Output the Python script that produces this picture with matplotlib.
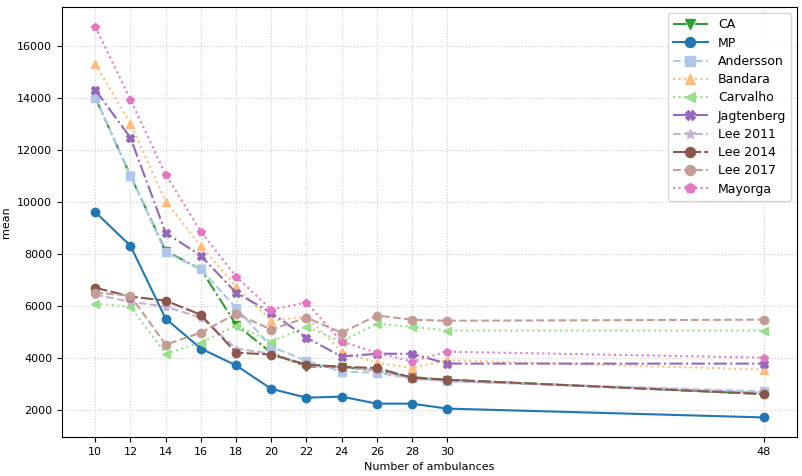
import matplotlib
matplotlib.use("Agg")
import matplotlib.pyplot as plt

ambulances = [10, 12, 14, 16, 18, 20, 22, 24, 26, 28, 30, 48]

ca = [14000, 11000, 8100, 7400, 5270, 4190, 3650, 3650, 3500, 3250, 3150, 2600]
mp = [9600, 8300, 5500, 4350, 3700, 2800, 2460, 2500, 2230, 2230, 2040, 1700]
andersson = [14000, 11000, 8050, 7400, 5920, 4420, 3880, 3460, 3420, 3200, 3100, 2700]
bandara = [15300, 13000, 10000, 8300, 6730, 5420, 5580, 4230, 3800, 3600, 3900, 3540]
carvalho = [6080, 5960, 4150, 4580, 5230, 4620, 5190, 4620, 5300, 5190, 5040, 5040]
jagtenberg = [14300, 12460, 8800, 7920, 6500, 5730, 4770, 4040, 4150, 4150, 3770, 3770]
lee2011 = [6420, 6150, 5960, 5540, 4350, 4150, 3700, 3650, 3500, 3200, 3100, 2650]
lee2014 = [6690, 6350, 6190, 5650, 4190, 4120, 3730, 3650, 3600, 3230, 3150, 2600]
lee2017 = [6500, 6380, 4500, 4960, 5690, 5080, 5540, 4960, 5620, 5460, 5420, 5460]
mayorga = [16730, 13920, 11040, 8850, 7120, 5850, 6120, 4620, 4190, 3850, 4230, 4000]

series = [
    ("CA", ca, "#2ca02c", "-.", "v"),
    ("MP", mp, "#1f77b4", "-", "o"),
    ("Andersson", andersson, "#aec7e8", "--", "s"),
    ("Bandara", bandara, "#ffbb78", ":", "^"),
    ("Carvalho", carvalho, "#98df8a", ":", "<"),
    ("Jagtenberg", jagtenberg, "#9467bd", "-.", "X"),
    ("Lee 2011", lee2011, "#c5b0d5", "--", "*"),
    ("Lee 2014", lee2014, "#8c564b", (0, (6, 1.5)), "o"),
    ("Lee 2017", lee2017, "#c49c94", "--", "o"),
    ("Mayorga", mayorga, "#e377c2", ":", "p"),
]

fig, ax = plt.subplots(figsize=(8.03, 4.76), dpi=100)
fig.subplots_adjust(left=0.077, right=0.993, top=0.985, bottom=0.082)

for name, vals, col, ls, mk in series:
    ax.plot(ambulances, vals, color=col, linestyle=ls, marker=mk, markersize=6, label=name)

ax.set_xticks(ambulances)
ax.tick_params(labelsize=8)
ax.grid(True, linestyle=":", color="#cccccc", linewidth=0.8)
ax.set_xlabel("Number of ambulances", fontsize=8)
ax.set_ylabel("mean", fontsize=8)
ax.legend(fontsize=9, loc="upper right", handlelength=2.8, labelspacing=0.42,
          markerscale=1.2)

plt.savefig("out.png", dpi=100)
